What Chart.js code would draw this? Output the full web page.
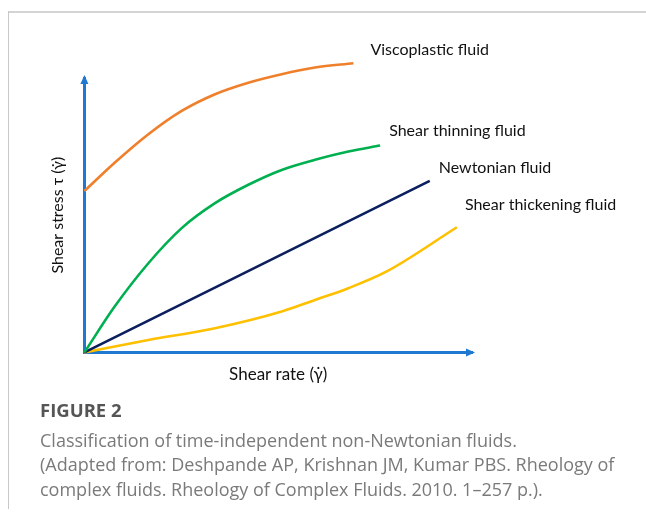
<!DOCTYPE html>
<html>
<head>
<meta charset="utf-8">
<script src="https://cdn.jsdelivr.net/npm/chart.js@4"></script>
<style>
  html, body { margin: 0; padding: 0; background: #fff; }
  body { width: 646px; height: 522px; position: relative; overflow: hidden; font-family: Lato, "Noto Sans", sans-serif; }
  #frameTop { position: absolute; left: 8px; top: 11px; width: 638px; height: 2px; background: #d4d4d4; }
  #frameLeft { position: absolute; left: 8px; top: 11px; width: 1px; height: 498px; background: #c8c8c8; }
  #wrap { position: absolute; left: 0; top: 0; width: 646px; height: 400px; }
  #caption { position: absolute; left: 40px; top: 398px; width: 606px; color: #7a7a7a; font-family: "Open Sans", Lato, sans-serif; font-size: 18px; line-height: 24.5px; white-space: nowrap; }
  #caption .fig { color: #555; font-weight: bold; font-size: 18.5px; margin-bottom: 5px; }
</style>
</head>
<body>
<div id="frameTop"></div>
<div id="frameLeft"></div>
<div id="wrap"><canvas id="c" width="646" height="400"></canvas></div>
<div id="caption">
  <div class="fig">FIGURE 2</div>
  <div>Classification of time-independent non-Newtonian fluids.</div>
  <div>(Adapted from: Deshpande AP, Krishnan JM, Kumar PBS. Rheology of</div>
  <div>complex fluids. Rheology of Complex Fluids. 2010. 1–257 p.).</div>
</div>
<script>
// ---- data (arbitrary units, axis spans 0..100) ----
const seriesNames = ["Viscoplastic fluid", "Shear thinning fluid", "Newtonian fluid", "Shear thickening fluid"];
const viscoplasticX = [0, 7.8, 16.5, 25.1, 33.7, 42.3, 50.9, 59.5, 69.4];
const viscoplasticY = [58.8, 69.1, 79.5, 88.0, 94.1, 98.3, 101.4, 103.8, 105.4];
const thinningX = [0, 7.8, 16.5, 25.1, 33.7, 42.3, 50.9, 59.5, 68.1, 76.3];
const thinningY = [0, 16.7, 32.5, 45.3, 54.4, 61.1, 66.5, 70.2, 73.2, 75.4];
const newtonianX = [0, 89.1];
const newtonianY = [0, 62.5];
const thickeningX = [0, 16.5, 33.7, 50.9, 59.5, 68.1, 78.0, 96.1];
const thickeningY = [0, 4.5, 8.8, 14.9, 19.1, 23.4, 29.5, 45.6];
const xTitle = "Shear rate (\u03B3\u0307)";
const yTitle = "Shear stress \u03C4 (\u03B3\u0307)";

const colors = ["#F07F2B", "#00B050", "#0B1F5E", "#FFC000"];
const labelOffsets = [[17, -13], [9, -15], [9, -13], [8, -22]];

function pts(xs, ys) { return xs.map((x, i) => ({x: x, y: ys[i]})); }
const allData = [pts(viscoplasticX, viscoplasticY), pts(thinningX, thinningY), pts(newtonianX, newtonianY), pts(thickeningX, thickeningY)];

const axisColor = "#1F78D1";
const textFont = "Lato, 'Noto Sans', sans-serif";

const decor = {
  id: 'decor',
  afterDatasetsDraw(chart) {
    const ctx = chart.ctx;
    const a = chart.chartArea;
    ctx.save();
    ctx.fillStyle = axisColor;
    // y arrow
    ctx.beginPath();
    ctx.moveTo(a.left, a.top - 3);
    ctx.lineTo(a.left - 4, a.top + 6);
    ctx.lineTo(a.left + 4, a.top + 6);
    ctx.closePath(); ctx.fill();
    // x arrow
    ctx.beginPath();
    ctx.moveTo(a.right + 3, a.bottom);
    ctx.lineTo(a.right - 6, a.bottom - 4);
    ctx.lineTo(a.right - 6, a.bottom + 4);
    ctx.closePath(); ctx.fill();
    // curve labels
    ctx.fillStyle = "#111";
    ctx.font = "16px " + textFont;
    ctx.textBaseline = "middle";
    ctx.textAlign = "left";
    chart.data.datasets.forEach((ds, i) => {
      const last = ds.data[ds.data.length - 1];
      const px = chart.scales.x.getPixelForValue(last.x) + labelOffsets[i][0];
      const py = chart.scales.y.getPixelForValue(last.y) + labelOffsets[i][1];
      ctx.fillText(ds.label, px, py);
    });
    ctx.restore();
  }
};

new Chart(document.getElementById('c'), {
  type: 'line',
  data: {
    datasets: allData.map((d, i) => ({
      label: seriesNames[i],
      data: d,
      borderColor: colors[i],
      borderWidth: 2.6,
      pointRadius: 0,
      cubicInterpolationMode: 'monotone',
      capBezierPoints: false,
      clip: false,
      fill: false
    }))
  },
  options: {
    responsive: false,
    animation: false,
    layout: { padding: { left: 48.2, top: 78, right: 174, bottom: 15.6 } },
    plugins: { legend: { display: false }, tooltip: { enabled: false } },
    scales: {
      x: {
        type: 'linear', min: 0, max: 100,
        grid: { display: false },
        border: { display: true, color: axisColor, width: 3 },
        ticks: { display: false },
        title: { display: true, text: xTitle, color: "#111", font: { family: textFont, size: 17 }, padding: { top: 3.6, bottom: 0 } }
      },
      y: {
        type: 'linear', min: 0, max: 100,
        grid: { display: false },
        border: { display: true, color: axisColor, width: 3 },
        ticks: { display: false },
        title: { display: true, text: yTitle, color: "#111", font: { family: textFont, size: 16 }, padding: { top: 0, bottom: 9 } }
      }
    }
  },
  plugins: [decor]
});
</script>
</body>
</html>
